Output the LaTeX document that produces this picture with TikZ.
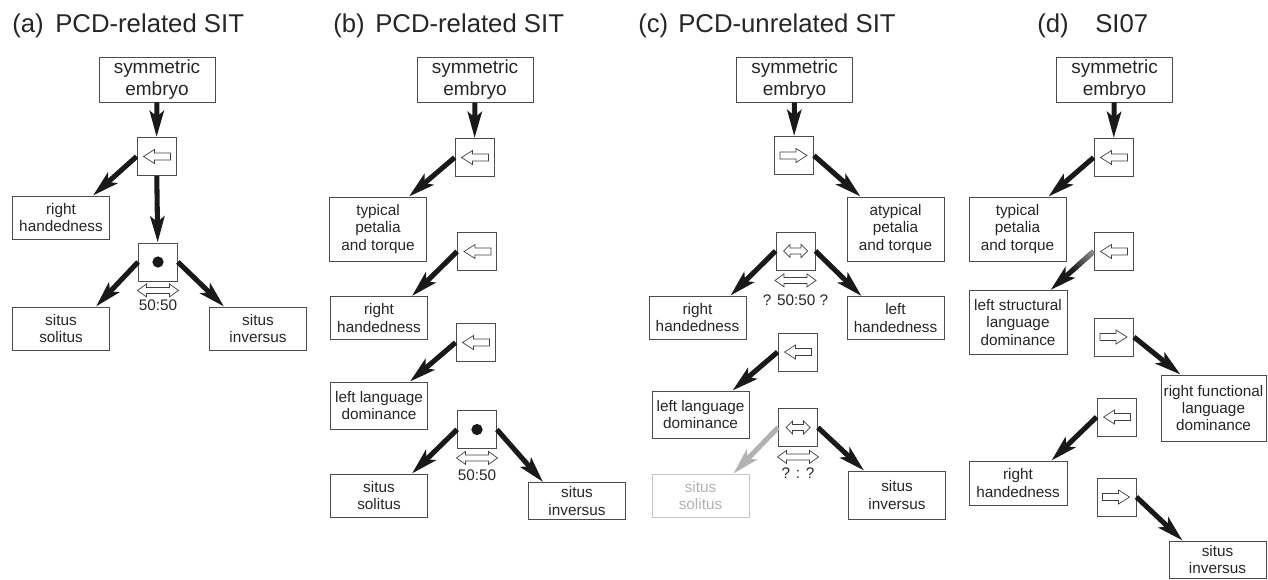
\documentclass[tikz,border=0pt]{standalone}
\usepackage{fontspec}
\setmainfont{Liberation Sans}
\usetikzlibrary{arrows.meta,calc}

\newcommand{\bodyfont}{\fontsize{10.9}{12.2}\selectfont}
\newcommand{\embfont}{\fontsize{13.5}{15.6}\selectfont}
\newcommand{\headfont}{\fontsize{18.3}{22}\selectfont}

% hollow cue arrows, drawn round a point
\newcommand{\cueleft}[1]{\draw[hollow,shift={(#1)}] (-13,0) -- (-2,-7) -- (-2,-3.5) -- (14,-3.5) -- (14,3.5) -- (-2,3.5) -- (-2,7) -- cycle;}
\newcommand{\cueright}[1]{\draw[hollow,shift={(#1)},xscale=-1] (-13,0) -- (-2,-7) -- (-2,-3.5) -- (14,-3.5) -- (14,3.5) -- (-2,3.5) -- (-2,7) -- cycle;}
\newcommand{\cueboth}[3]{\draw[hollow,shift={(#1)}] (-#2,0) -- (-#2+#3,-6.5) -- (-#2+#3,-3) -- (#2-#3,-3) -- (#2-#3,-6.5) -- (#2,0) -- (#2-#3,6.5) -- (#2-#3,3) -- (-#2+#3,3) -- (-#2+#3,6.5) -- cycle;}

\begin{document}
\begin{tikzpicture}[x=0.025cm,y=-0.025cm,
  box/.style={draw=black!70,line width=0.6pt,inner sep=0pt,align=center,font=\bodyfont,text=black!85,minimum width=2.425cm,minimum height=1.075cm},
  tallbox/.style={box,minimum height=1.6cm},
  embbox/.style={box,font=\embfont,minimum width=2.9cm,minimum height=1.125cm},
  cue/.style={draw=black!70,line width=0.6pt,inner sep=0pt,minimum width=0.975cm,minimum height=0.95cm},
  faded/.style={draw=black!22,text=black!30},
  hollow/.style={draw=black!75,line width=0.5pt,fill=white},
  thk/.style={line width=3.6pt,black!90,-{Stealth[length=6.5mm,width=3.5mm,inset=1.4mm]}},
  lbl/.style={inner sep=0pt,font=\bodyfont,text=black!85},
  head/.style={inner sep=0pt,anchor=base west,font=\headfont,text=black!85}]
\useasboundingbox (0,0) rectangle (1268,579);

% titles
\node[head] (ta) at (12,32) {(a)};
\node[head] (tna) at (55,32) {PCD-related SIT};
\node[head] (tb) at (333,32) {(b)};
\node[head] (tnb) at (375,32) {PCD-related SIT};
\node[head] (tc) at (638,32) {(c)};
\node[head] (tnc) at (678,32) {PCD-unrelated SIT};
\node[head] (td) at (1037,32) {(d)};
\node[head] (tnd) at (1095,32) {SI07};

% (a)
\node[embbox] (embA) at (157,79.5) {symmetric\\embryo};
\node[cue] (cueA1) at (156.5,156.5) {};
\node[box] (rhA) at (61,217.5) {right\\handedness};
\node[cue] (cueA2) at (158,262) {};
\node[box] (solA) at (61,328.5) {situs\\solitus};
\node[box] (invA) at (258,328.5) {situs\\inversus};
\draw[thk] (embA) -- (cueA1);
\draw[thk] (cueA1) -- (cueA2);
\draw[thk] (cueA1.west) -- ($(rhA.north east)+(-17,0)$);
\draw[thk] (cueA2.west) -- ($(solA.north east)+(-14,0)$);
\draw[thk] (cueA2.east) -- ($(invA.north west)+(15,0)$);
\cueleft{cueA1}
\fill[black!90] (cueA2) circle[radius=4pt];
\coordinate (splitA) at ($(cueA2.south)+(0,9)$);
\cueboth{splitA}{20.5}{9}
\node[lbl] (ratioA) at ($(cueA2.south)+(0,24)$) {50:50};

% (b)
\node[embbox] (embB) at (475,80) {symmetric\\embryo};
\node[cue] (cueB1) at (474.5,157.5) {};
\node[tallbox] (petB) at (378,229) {typical\\petalia\\and torque};
\node[cue] (cueB2) at (477,251.5) {};
\node[box] (rhB) at (379,318) {right\\handedness};
\node[cue] (cueB3) at (475.5,342.5) {};
\node[box,minimum height=1.175cm] (langB) at (379,405.5) {left language\\dominance};
\node[cue] (cueB4) at (477,429.5) {};
\node[box] (solB) at (379,495.5) {situs\\solitus};
\node[box,minimum height=0.925cm] (invB) at (577,501) {situs\\inversus};
\draw[thk] (embB) -- (cueB1);
\draw[thk] (cueB1.west) -- ($(petB.north east)+(-18,0)$);
\draw[thk] (cueB2.west) -- ($(rhB.north east)+(-16,0)$);
\draw[thk] (cueB3.west) -- ($(langB.north east)+(-18,0)$);
\draw[thk] (cueB4.west) -- ($(solB.north east)+(-16,0)$);
\draw[thk] (cueB4.east) -- ($(invB.north west)+(15,0)$);
\cueleft{cueB1}
\cueleft{cueB2}
\cueleft{cueB3}
\fill[black!90] (cueB4) circle[radius=4pt];
\coordinate (splitB) at ($(cueB4.south)+(0,9)$);
\cueboth{splitB}{20.5}{9}
\node[lbl] (ratioB) at ($(cueB4.south)+(0,26)$) {50:50};

% (c)
\node[embbox] (embC) at (794.5,79.5) {symmetric\\embryo};
\node[cue] (cueC1) at (794,155.5) {};
\node[tallbox] (petC) at (895.5,229) {atypical\\petalia\\and torque};
\node[cue] (cueC2) at (795.5,251) {};
\node[box] (rhC) at (697.5,317.5) {right\\handedness};
\node[box] (lhC) at (895.5,318) {left\\handedness};
\node[cue] (cueC3) at (797.5,352) {};
\node[box,minimum height=1.175cm] (langC) at (700.5,414.5) {left language\\dominance};
\node[cue] (cueC4) at (798,427.5) {};
\node[box,faded] (solC) at (700.5,495.5) {situs\\solitus};
\node[box,minimum height=1.2cm] (invC) at (897,495) {situs\\inversus};
\draw[thk] (embC) -- (cueC1);
\draw[thk] (cueC1.east) -- ($(petC.north west)+(14,0)$);
\draw[thk] (cueC2.west) -- ($(rhC.north east)+(-16,0)$);
\draw[thk] (cueC2.east) -- ($(lhC.north west)+(15,0)$);
\draw[thk] (cueC3.west) -- ($(langC.north east)+(-17,0)$);
\draw[thk,black!30] (cueC4.west) -- ($(solC.north east)+(-16,0)$);
\draw[thk] (cueC4.east) -- ($(invC.north west)+(16,0)$);
\cueright{cueC1}
\cueboth{cueC2}{12}{6.5}
\coordinate (splitC1) at ($(cueC2.south)+(0,10)$);
\cueboth{splitC1}{20.5}{9}
\node[lbl] (ratioC1) at ($(cueC2.south)+(0,30)$) {? 50:50 ?};
\cueleft{cueC3}
\cueboth{cueC4}{12}{6.5}
\coordinate (splitC2) at ($(cueC4.south)+(0,10)$);
\cueboth{splitC2}{20.5}{9}
\node[lbl] (ratioC2) at ($(cueC4.south)+(0,26)$) {? : ?};

% (d)
\node[embbox] (embD) at (1114.5,79.5) {symmetric\\embryo};
\node[cue] (cueD1) at (1113.5,157.5) {};
\node[tallbox] (petD) at (1017.5,229) {typical\\petalia\\and torque};
\node[cue] (cueD2) at (1113.5,251.5) {};
\node[tallbox,minimum width=2.45cm] (langD) at (1018,322.5) {left structural\\language\\dominance};
\node[cue] (cueD3) at (1114,337) {};
\node[tallbox,minimum width=2.625cm,minimum height=1.65cm] (funcD) at (1213.5,408) {right functional\\language\\dominance};
\node[cue] (cueD4) at (1116.5,417) {};
\node[box,minimum width=2.45cm,minimum height=1.1cm] (rhD) at (1018,483) {right\\handedness};
\node[cue] (cueD5) at (1116.5,497) {};
\node[box,minimum height=0.925cm] (invD) at (1217.5,559.5) {situs\\inversus};
\draw[thk] (embD) -- (cueD1);
\draw[thk] (cueD1.west) -- ($(petD.north east)+(-18,0)$);
% this one fades in from grey
\coordinate (fadeA) at (cueD2.west);
\coordinate (fadeB) at ($(langD.north east)+(-17,0)$);
\draw[thk] (fadeA) -- (fadeB);
\foreach \i in {0,...,7}{
  \pgfmathtruncatemacro{\shade}{45+\i*6}
  \draw[line width=3.6pt,black!\shade] ($(fadeA)!\i/16!(fadeB)$) -- ($(fadeA)!\i/16+1/16!(fadeB)$);
}
\draw[thk] (cueD3.east) -- ($(funcD.north west)+(20,0)$);
\draw[thk] (cueD4.west) -- ($(rhD.north east)+(-16,0)$);
\draw[thk] (cueD5.east) -- ($(invD.north west)+(14,0)$);
\cueleft{cueD1}
\cueleft{cueD2}
\cueright{cueD3}
\cueleft{cueD4}
\cueright{cueD5}
\end{tikzpicture}
\end{document}
